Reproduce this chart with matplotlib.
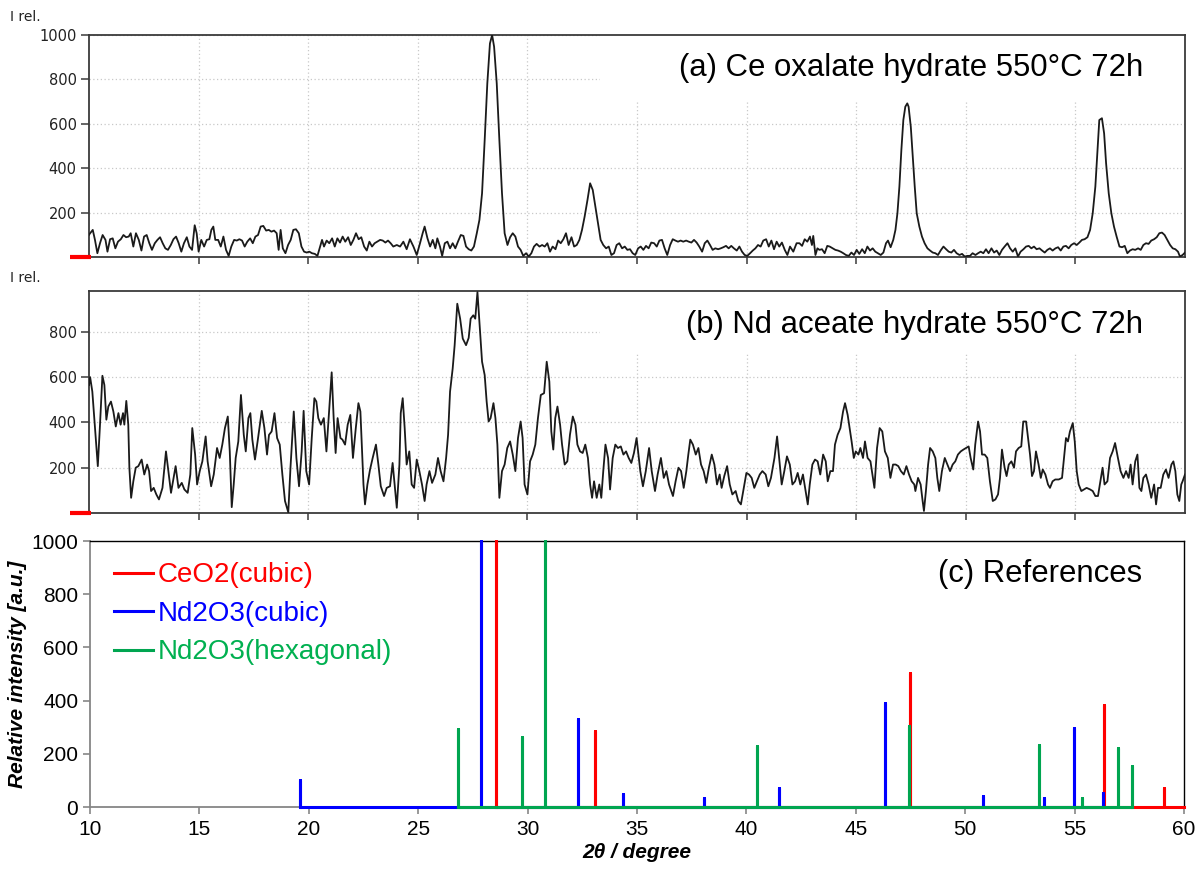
import numpy as np
import matplotlib.pyplot as plt
from matplotlib.patches import Rectangle

plt.rcParams['font.family'] = ['Liberation Sans', 'DejaVu Sans']

# (a) Ce oxalate hydrate 550 C 72h : 2theta [deg], relative intensity
a_two_theta = [
    10.00, 10.05, 10.17, 10.27, 10.38, 10.50, 10.62, 10.75, 10.84, 10.96, 11.08, 11.20, 11.32, 11.45,
    11.57, 11.69, 11.81, 11.90, 12.02, 12.14, 12.27, 12.39, 12.51, 12.63, 12.75, 12.87, 13.00, 13.12,
    13.24, 13.36, 13.48, 13.60, 13.73, 13.85, 13.97, 14.09, 14.21, 14.33, 14.46, 14.58, 14.70, 14.82,
    14.91, 15.00, 15.12, 15.25, 15.37, 15.49, 15.58, 15.67, 15.76, 15.89, 16.01, 16.13, 16.25, 16.37,
    16.49, 16.62, 16.74, 16.86, 16.98, 17.10, 17.22, 17.35, 17.47, 17.59, 17.71, 17.83, 17.95, 18.08,
    18.20, 18.32, 18.44, 18.56, 18.65, 18.74, 18.84, 18.96, 19.08, 19.20, 19.32, 19.44, 19.57, 19.69,
    19.81, 19.93, 20.05, 20.17, 20.30, 20.42, 20.54, 20.63, 20.72, 20.84, 20.96, 21.09, 21.21, 21.33,
    21.45, 21.57, 21.69, 21.82, 21.94, 22.06, 22.18, 22.30, 22.42, 22.55, 22.67, 22.79, 22.91, 23.03,
    23.15, 23.28, 23.40, 23.52, 23.64, 23.76, 23.88, 24.04, 24.19, 24.34, 24.49, 24.64, 24.80, 24.95,
    25.10, 25.22, 25.31, 25.44, 25.56, 25.68, 25.80, 25.89, 26.01, 26.11, 26.23, 26.35, 26.47, 26.59,
    26.71, 26.83, 26.96, 27.08, 27.20, 27.32, 27.44, 27.56, 27.69, 27.81, 27.93, 28.05, 28.17, 28.29,
    28.39, 28.48, 28.60, 28.72, 28.84, 28.96, 29.09, 29.21, 29.33, 29.45, 29.57, 29.69, 29.81, 29.94,
    30.06, 30.18, 30.30, 30.42, 30.55, 30.67, 30.79, 30.91, 31.03, 31.15, 31.28, 31.40, 31.52, 31.64,
    31.76, 31.88, 32.01, 32.13, 32.25, 32.37, 32.49, 32.61, 32.74, 32.86, 32.98, 33.10, 33.22, 33.34,
    33.46, 33.59, 33.71, 33.83, 33.95, 34.07, 34.19, 34.32, 34.44, 34.56, 34.68, 34.80, 34.92, 35.05,
    35.17, 35.29, 35.41, 35.53, 35.65, 35.78, 35.90, 36.02, 36.14, 36.26, 36.38, 36.51, 36.63, 36.75,
    36.87, 36.99, 37.11, 37.24, 37.36, 37.48, 37.60, 37.72, 37.84, 37.97, 38.09, 38.21, 38.33, 38.45,
    38.57, 38.70, 38.82, 38.94, 39.06, 39.18, 39.30, 39.42, 39.55, 39.67, 39.79, 39.91, 40.03, 40.16,
    40.28, 40.40, 40.52, 40.64, 40.76, 40.89, 41.01, 41.13, 41.25, 41.37, 41.49, 41.61, 41.74, 41.86,
    41.98, 42.13, 42.28, 42.41, 42.53, 42.65, 42.77, 42.89, 42.98, 43.04, 43.14, 43.23, 43.32, 43.44,
    43.56, 43.68, 43.79, 43.93, 44.05, 44.17, 44.29, 44.41, 44.53, 44.66, 44.78, 44.90, 45.02, 45.14,
    45.27, 45.39, 45.51, 45.63, 45.75, 45.87, 45.99, 46.12, 46.24, 46.36, 46.45, 46.57, 46.69, 46.79,
    46.88, 46.97, 47.06, 47.15, 47.24, 47.33, 47.39, 47.49, 47.58, 47.67, 47.76, 47.88, 48.00, 48.12,
    48.25, 48.37, 48.49, 48.61, 48.73, 48.85, 48.98, 49.10, 49.22, 49.34, 49.46, 49.58, 49.71, 49.83,
    49.95, 50.07, 50.19, 50.31, 50.44, 50.56, 50.68, 50.80, 50.92, 51.04, 51.17, 51.29, 51.41, 51.53,
    51.65, 51.77, 51.90, 52.02, 52.14, 52.26, 52.38, 52.50, 52.63, 52.75, 52.87, 52.99, 53.11, 53.23,
    53.36, 53.48, 53.60, 53.72, 53.84, 53.96, 54.09, 54.21, 54.33, 54.45, 54.57, 54.69, 54.81, 54.94,
    55.06, 55.18, 55.30, 55.42, 55.55, 55.67, 55.79, 55.91, 56.00, 56.09, 56.21, 56.31, 56.40, 56.52,
    56.64, 56.76, 56.88, 57.01, 57.13, 57.25, 57.37, 57.49, 57.61, 57.73, 57.86, 57.98, 58.10, 58.22,
    58.34, 58.46, 58.59, 58.71, 58.83, 58.95, 59.07, 59.19, 59.32, 59.44, 59.56, 59.68, 59.77, 59.89,
    60.00]
a_intensity = [
    100, 107, 122, 77, 17, 62, 99, 77, 24, 80, 84, 39, 69, 80,
    99, 89, 92, 107, 47, 107, 77, 29, 92, 99, 62, 32, 62, 77,
    89, 62, 39, 32, 54, 80, 92, 62, 24, 62, 89, 47, 32, 143,
    107, 24, 77, 47, 77, 80, 122, 137, 77, 77, 47, 92, 32, 5,
    47, 77, 74, 80, 74, 47, 69, 84, 62, 92, 99, 137, 140, 119,
    122, 114, 119, 107, 32, 122, 39, 17, 54, 77, 122, 125, 107, 47,
    24, 20, 24, 17, 14, 5, 47, 77, 47, 74, 62, 84, 47, 84,
    65, 92, 69, 89, 54, 77, 107, 80, 89, 47, 29, 69, 47, 62,
    69, 77, 74, 65, 74, 62, 47, 54, 47, 69, 35, 80, 47, 9,
    62, 107, 137, 84, 47, 77, 39, 84, 47, 5, 62, 69, 39, 62,
    39, 69, 99, 95, 47, 35, 29, 47, 107, 167, 287, 527, 782, 962,
    1000, 947, 782, 527, 287, 107, 54, 89, 107, 92, 47, 32, 5, 17,
    2, 17, 47, 59, 47, 54, 47, 62, 24, 47, 35, 74, 62, 80,
    107, 54, 89, 47, 54, 77, 122, 182, 257, 332, 302, 227, 152, 77,
    54, 39, 47, 9, 17, 54, 62, 39, 47, 32, 35, 17, 9, 39,
    47, 32, 50, 39, 65, 62, 47, 74, 77, 39, 9, 54, 80, 74,
    69, 74, 69, 74, 69, 65, 77, 65, 47, 24, 62, 74, 54, 32,
    39, 35, 39, 44, 50, 39, 50, 39, 29, 47, 24, 9, 5, 17,
    29, 39, 54, 47, 74, 80, 47, 74, 35, 69, 47, 65, 32, 9,
    47, 24, 62, 62, 50, 80, 69, 92, 54, 95, 9, 39, 32, 35,
    17, 50, 47, 39, 32, 29, 24, 17, 9, 5, 20, 9, 32, 14,
    35, 17, 47, 29, 39, 24, 17, 9, 20, 62, 74, 44, 77, 122,
    197, 317, 482, 617, 677, 692, 677, 587, 452, 317, 197, 137, 92, 62,
    39, 29, 20, 17, 9, 29, 47, 35, 24, 20, 32, 17, 9, 14,
    2, 5, 5, 17, 9, 17, 24, 17, 35, 17, 39, 20, 29, 9,
    32, 47, 62, 39, 24, 39, 2, 24, 35, 47, 50, 39, 47, 35,
    39, 29, 20, 32, 39, 29, 39, 44, 29, 47, 50, 39, 54, 62,
    54, 65, 77, 80, 89, 122, 197, 317, 467, 617, 625, 557, 422, 287,
    197, 137, 92, 47, 44, 50, 17, 29, 35, 32, 39, 32, 54, 62,
    59, 74, 80, 89, 107, 110, 99, 77, 54, 39, 35, 24, 2, 9,
    20]

# (b) Nd aceate hydrate 550 C 72h
b_two_theta = [
    10.00, 10.05, 10.15, 10.27, 10.40, 10.50, 10.61, 10.70, 10.79, 10.88, 11.00, 11.11, 11.22, 11.34,
    11.44, 11.55, 11.61, 11.70, 11.79, 11.84, 11.92, 12.02, 12.13, 12.25, 12.40, 12.52, 12.65, 12.74,
    12.83, 12.95, 13.07, 13.19, 13.35, 13.51, 13.62, 13.74, 13.83, 13.95, 14.08, 14.23, 14.35, 14.50,
    14.62, 14.71, 14.84, 14.93, 15.05, 15.17, 15.32, 15.41, 15.57, 15.69, 15.84, 15.96, 16.08, 16.20,
    16.33, 16.42, 16.51, 16.60, 16.69, 16.81, 16.93, 17.06, 17.15, 17.27, 17.36, 17.45, 17.57, 17.69,
    17.88, 18.00, 18.12, 18.21, 18.33, 18.46, 18.58, 18.70, 18.82, 18.94, 19.09, 19.19, 19.34, 19.46,
    19.58, 19.70, 19.79, 19.91, 20.04, 20.16, 20.28, 20.37, 20.46, 20.58, 20.71, 20.83, 20.95, 21.07,
    21.16, 21.25, 21.34, 21.47, 21.56, 21.68, 21.80, 21.92, 22.04, 22.17, 22.29, 22.38, 22.52, 22.59,
    22.70, 22.82, 22.94, 23.09, 23.20, 23.31, 23.46, 23.58, 23.73, 23.85, 23.94, 24.04, 24.16, 24.22,
    24.31, 24.40, 24.49, 24.61, 24.72, 24.83, 24.95, 25.07, 25.19, 25.31, 25.40, 25.53, 25.65, 25.80,
    25.92, 26.04, 26.17, 26.29, 26.38, 26.47, 26.59, 26.68, 26.80, 26.93, 27.05, 27.20, 27.32, 27.41,
    27.53, 27.62, 27.72, 27.81, 27.93, 28.05, 28.14, 28.23, 28.32, 28.45, 28.54, 28.63, 28.72, 28.84,
    28.96, 29.08, 29.21, 29.33, 29.45, 29.57, 29.69, 29.78, 29.87, 30.00, 30.12, 30.24, 30.36, 30.48,
    30.61, 30.76, 30.88, 31.00, 31.09, 31.18, 31.27, 31.37, 31.49, 31.58, 31.70, 31.82, 31.94, 32.07,
    32.19, 32.28, 32.40, 32.52, 32.64, 32.76, 32.86, 32.95, 33.04, 33.16, 33.28, 33.37, 33.46, 33.56,
    33.68, 33.77, 33.89, 34.01, 34.13, 34.26, 34.38, 34.50, 34.62, 34.74, 34.86, 34.98, 35.15, 35.27,
    35.40, 35.55, 35.67, 35.82, 35.94, 36.09, 36.22, 36.34, 36.46, 36.64, 36.76, 36.89, 37.01, 37.13,
    37.25, 37.34, 37.43, 37.55, 37.68, 37.80, 37.92, 38.04, 38.16, 38.28, 38.41, 38.53, 38.65, 38.77,
    38.86, 38.98, 39.11, 39.23, 39.35, 39.50, 39.62, 39.74, 39.87, 39.99, 40.11, 40.23, 40.35, 40.47,
    40.60, 40.72, 40.87, 40.99, 41.11, 41.27, 41.39, 41.51, 41.60, 41.72, 41.84, 41.97, 42.09, 42.21,
    42.33, 42.45, 42.57, 42.69, 42.79, 42.88, 43.00, 43.12, 43.24, 43.36, 43.49, 43.61, 43.70, 43.82,
    43.94, 44.03, 44.15, 44.28, 44.40, 44.49, 44.61, 44.70, 44.79, 44.89, 44.98, 45.10, 45.19, 45.31,
    45.40, 45.52, 45.65, 45.74, 45.83, 45.95, 46.07, 46.19, 46.31, 46.44, 46.56, 46.68, 46.80, 46.92,
    47.04, 47.17, 47.29, 47.41, 47.53, 47.65, 47.70, 47.82, 47.94, 48.03, 48.09, 48.18, 48.28, 48.37,
    48.49, 48.61, 48.70, 48.79, 48.91, 49.04, 49.16, 49.28, 49.40, 49.52, 49.64, 49.77, 49.89, 50.01,
    50.13, 50.22, 50.34, 50.43, 50.56, 50.65, 50.74, 50.86, 50.98, 51.10, 51.23, 51.35, 51.47, 51.56,
    51.65, 51.77, 51.86, 51.96, 52.08, 52.20, 52.29, 52.41, 52.53, 52.62, 52.75, 52.84, 52.93, 53.02,
    53.11, 53.20, 53.32, 53.42, 53.51, 53.63, 53.75, 53.84, 53.96, 54.08, 54.24, 54.39, 54.48, 54.57,
    54.66, 54.75, 54.88, 54.97, 55.06, 55.15, 55.27, 55.39, 55.51, 55.67, 55.79, 55.91, 56.03, 56.15,
    56.24, 56.33, 56.46, 56.58, 56.70, 56.81, 56.94, 57.06, 57.19, 57.31, 57.43, 57.52, 57.61, 57.73,
    57.83, 57.92, 58.01, 58.10, 58.22, 58.34, 58.46, 58.59, 58.68, 58.77, 58.89, 59.01, 59.13, 59.25,
    59.38, 59.47, 59.56, 59.65, 59.74, 59.83, 59.89, 60.00]
b_intensity = [
    565, 600, 536, 375, 207, 390, 606, 565, 412, 470, 492, 448, 382, 441,
    390, 441, 390, 495, 390, 200, 67, 140, 200, 207, 236, 170, 214, 185,
    97, 111, 82, 60, 111, 272, 185, 89, 140, 207, 111, 133, 104, 89,
    170, 375, 258, 126, 185, 228, 338, 228, 118, 170, 287, 243, 302, 375,
    426, 272, 26, 126, 243, 316, 521, 345, 272, 419, 441, 324, 236, 316,
    451, 375, 258, 345, 360, 441, 331, 302, 170, 53, 3, 200, 448, 243,
    118, 272, 451, 185, 126, 331, 507, 492, 419, 390, 419, 272, 448, 621,
    419, 265, 419, 331, 324, 302, 390, 433, 243, 375, 485, 448, 126, 38,
    126, 192, 243, 302, 214, 118, 75, 111, 118, 221, 126, 23, 214, 441,
    507, 375, 214, 272, 126, 111, 236, 185, 126, 53, 126, 185, 133, 170,
    243, 185, 140, 243, 345, 536, 638, 741, 924, 858, 770, 741, 773, 858,
    873, 858, 975, 843, 668, 609, 492, 404, 419, 485, 419, 302, 67, 185,
    214, 287, 316, 258, 185, 331, 404, 331, 126, 82, 228, 258, 302, 419,
    521, 529, 668, 580, 360, 280, 419, 470, 390, 302, 214, 228, 345, 426,
    390, 302, 272, 265, 302, 243, 126, 67, 140, 67, 126, 67, 185, 302,
    243, 104, 243, 302, 287, 294, 258, 272, 243, 221, 265, 331, 185, 118,
    185, 287, 185, 97, 170, 243, 155, 185, 126, 75, 140, 200, 185, 111,
    185, 258, 324, 302, 258, 287, 214, 185, 133, 200, 258, 214, 126, 170,
    111, 163, 207, 126, 82, 97, 53, 38, 111, 177, 170, 155, 111, 140,
    170, 185, 170, 118, 155, 243, 338, 214, 126, 185, 250, 214, 126, 140,
    177, 126, 170, 97, 38, 126, 214, 236, 228, 170, 258, 228, 140, 185,
    185, 302, 345, 375, 448, 485, 433, 375, 316, 243, 272, 258, 287, 243,
    316, 243, 228, 170, 111, 287, 375, 360, 272, 243, 155, 214, 214, 207,
    185, 170, 207, 170, 140, 126, 97, 155, 126, 53, 9, 97, 214, 287,
    272, 243, 155, 97, 185, 243, 214, 185, 214, 228, 258, 272, 280, 287,
    294, 243, 192, 302, 404, 360, 258, 258, 243, 140, 53, 60, 82, 155,
    280, 200, 163, 214, 228, 200, 272, 287, 294, 404, 404, 331, 258, 163,
    185, 272, 214, 155, 192, 170, 126, 111, 140, 148, 148, 155, 243, 331,
    316, 360, 397, 316, 185, 126, 97, 104, 111, 104, 97, 75, 75, 148,
    200, 126, 140, 243, 272, 309, 243, 185, 155, 185, 155, 214, 126, 228,
    258, 111, 97, 155, 170, 126, 67, 126, 38, 111, 111, 170, 192, 155,
    214, 228, 185, 82, 53, 126, 140, 170]

# (c) reference stick patterns
ceo2_pos = [28.55, 33.08, 47.48, 56.35, 59.10]
ceo2_int = [1000, 285, 502, 383, 72]
nd2o3_cub_pos = [19.60, 27.89, 32.32, 34.36, 38.08, 41.50, 46.34, 50.80, 53.60, 54.97, 56.30]
nd2o3_cub_int = [100, 1000, 330, 50, 33, 73, 391, 43, 34, 296, 51]
nd2o3_hex_pos = [26.84, 29.73, 30.78, 40.47, 47.43, 53.38, 55.33, 56.98, 57.60]
nd2o3_hex_int = [294, 263, 1000, 229, 303, 235, 35, 221, 153]

GRID_COLOR = '#c8c8c8'
EDGE_COLOR = '#3a3a3a'


def stick_line(pos, inten, x_end=None):
    # spikes joined along the zero line
    xs, ys = [], []
    for p, h in zip(pos, inten):
        xs += [p, p, p]
        ys += [0, h, 0]
    if x_end is not None:
        xs.append(x_end)
        ys.append(0)
    return xs, ys


def pattern_panel(ax, x, y, ymax, yticks, label, box_bottom, label_y, irel_y):
    ax.plot(x, y, color='#1a1a1a', lw=1.3, zorder=3)
    ax.set_xlim(10, 60)
    ax.set_ylim(0, ymax)
    ax.set_xticks(np.arange(15, 60, 5))
    ax.set_xticklabels([])
    ax.set_yticks(yticks)
    ax.set_yticklabels([str(t) for t in yticks], fontfamily='DejaVu Sans', fontsize=10.5, color='#222222')
    ax.tick_params(axis='x', direction='out', length=5, width=1.1, color=EDGE_COLOR)
    ax.tick_params(axis='y', direction='out', length=6, width=1.1, color=EDGE_COLOR, pad=3)
    ax.grid(True, linestyle=(0, (1, 2)), color=GRID_COLOR, lw=0.9)
    ax.set_axisbelow(True)
    for s in ax.spines.values():
        s.set_color(EDGE_COLOR)
        s.set_linewidth(1.3)
    # blank area behind the title text
    ax.add_patch(Rectangle((0.466, box_bottom), 0.534, 1 - box_bottom, transform=ax.transAxes,
                           facecolor='white', edgecolor='none', zorder=1))
    ax.text(0.962, label_y, label, transform=ax.transAxes, ha='right', va='center',
            fontsize=22.4, zorder=4)
    # red zero marker and axis caption
    ax.plot([-0.017, 0.002], [0, 0], transform=ax.transAxes, color='red', lw=3,
            clip_on=False, solid_capstyle='butt', zorder=5)
    ax.text(-0.072, irel_y, 'I rel.', transform=ax.transAxes, ha='left', va='center',
            fontsize=10, fontfamily='DejaVu Sans', color='#222222')


fig = plt.figure(figsize=(12, 8.75), dpi=100)

ax_a = fig.add_axes([0.0742, 0.7063, 0.9133, 0.2537])
pattern_panel(ax_a, a_two_theta, a_intensity, 1000, [200, 400, 600, 800, 1000],
              '(a) Ce oxalate hydrate 550°C 72h', 0.707, 0.851, 1.081)

ax_b = fig.add_axes([0.0742, 0.4137, 0.9133, 0.2537])
pattern_panel(ax_b, b_two_theta, b_intensity, 980, [200, 400, 600, 800],
              '(b) Nd aceate hydrate 550°C 72h', 0.72, 0.847, 1.059)

# reference panel
ax_c = fig.add_axes([0.075, 0.0777, 0.9117, 0.304])
x, y = stick_line(ceo2_pos, ceo2_int, 60.0)
ax_c.plot(x, y, color='#ff0000', lw=2.2, label='CeO2(cubic)', clip_on=False, zorder=3)
x, y = stick_line(nd2o3_cub_pos, nd2o3_cub_int)
ax_c.plot(x, y, color='#0000ff', lw=2.2, label='Nd2O3(cubic)', clip_on=False, zorder=3)
x, y = stick_line(nd2o3_hex_pos, nd2o3_hex_int)
ax_c.plot(x, y, color='#00a550', lw=2.2, label='Nd2O3(hexagonal)', clip_on=False, zorder=3)

ax_c.set_xlim(10, 60)
ax_c.set_ylim(0, 1000)
ax_c.set_xticks(np.arange(10, 61, 5))
ax_c.set_yticks(np.arange(0, 1001, 200))
ax_c.tick_params(axis='both', direction='out', length=5, width=1.2, color='#868686', labelsize=15)
ax_c.tick_params(axis='x', pad=4)
for side in ['left', 'bottom']:
    ax_c.spines[side].set_color('#868686')
    ax_c.spines[side].set_linewidth(1.3)
for side in ['top', 'right']:
    ax_c.spines[side].set_color('black')
    ax_c.spines[side].set_linewidth(1.0)
ax_c.set_xlabel('2θ / degree', fontsize=15, fontweight='bold', fontstyle='italic', labelpad=3)
ax_c.set_ylabel('Relative intensity [a.u.]', fontsize=15, fontweight='bold', fontstyle='italic', labelpad=3)

leg = ax_c.legend(loc='upper left', bbox_to_anchor=(0.0216, 0.92), frameon=False, fontsize=20,
                  handlelength=1.4, handletextpad=0.2, labelspacing=0.45, borderpad=0, borderaxespad=0)
for txt, col in zip(leg.get_texts(), ['#ff0000', '#0000ff', '#00b050']):
    txt.set_color(col)

ax_c.text(0.962, 0.875, '(c) References', transform=ax_c.transAxes, ha='right', va='center', fontsize=22.4)

fig.savefig('out.png', dpi=100)
